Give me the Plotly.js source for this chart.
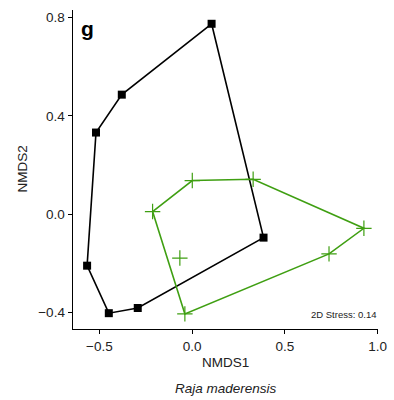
<!DOCTYPE html>
<html>
<head>
<meta charset="utf-8">
<script src="https://cdn.plot.ly/plotly-3.0.1.min.js"></script>
<style>html,body{margin:0;padding:0;background:#fff;}#chart{width:394px;height:400px;}</style>
</head>
<body>
<div id="chart"></div>
<script>
// Group 1 (black squares), hull vertices in order
const blackX = [0.105, 0.385, -0.293, -0.449, -0.566, -0.518, -0.379];
const blackY = [0.774, -0.095, -0.381, -0.402, -0.209, 0.332, 0.486];
// Group 2 (green crosses), hull vertices in order
const greenHullX = [-0.213, 0.001, 0.329, 0.926, 0.738, -0.039];
const greenHullY = [0.011, 0.137, 0.142, -0.057, -0.161, -0.405];
// Group 2 interior points
const greenInX = [-0.066];
const greenInY = [-0.178];

const xTicks = [-0.5, 0.0, 0.5, 1.0];
const yTicks = [-0.4, 0.0, 0.4, 0.8];
const panelLabel = 'g';
const stressLabel = '2D Stress: 0.14';
const xTitle = 'NMDS1';
const yTitle = 'NMDS2';
const species = 'Raja maderensis';

const black = '#000000';
const green = '#3f9f12';
const close = a => a.concat([a[0]]);

const traces = [
  {x: close(blackX), y: close(blackY), mode: 'lines', line: {color: black, width: 1.6}, hoverinfo: 'skip'},
  {x: blackX, y: blackY, mode: 'markers', marker: {symbol: 'square', size: 8, color: black}},
  {x: close(greenHullX), y: close(greenHullY), mode: 'lines', line: {color: green, width: 1.6}, hoverinfo: 'skip'},
  {x: greenHullX.concat(greenInX), y: greenHullY.concat(greenInY), mode: 'markers',
   marker: {symbol: 'cross-thin-open', size: 11, color: green, line: {color: green, width: 1.2}}}
];

const font = {family: 'Liberation Sans, Arial, sans-serif', color: '#000'};
const layout = {
  width: 394, height: 400,
  margin: {l: 73, r: 16, t: 10, b: 71},
  paper_bgcolor: '#fff', plot_bgcolor: '#fff',
  showlegend: false,
  font: Object.assign({size: 13}, font),
  xaxis: {range: [-0.642, 1.002], tickvals: xTicks, tickformat: '.1f', showgrid: false, zeroline: false,
          showline: true, linecolor: '#000', linewidth: 1.4, ticks: 'outside', ticklen: 4, tickwidth: 1.2,
          tickcolor: '#000', tickfont: Object.assign({size: 13.5, color: '#222'}, {family: font.family}), fixedrange: true},
  yaxis: {range: [-0.4663, 0.830], tickvals: yTicks, tickformat: '.1f', showgrid: false, zeroline: false,
          showline: true, linecolor: '#000', linewidth: 1.4, ticks: 'outside', ticklen: 4, tickwidth: 1.2,
          tickcolor: '#000', tickfont: Object.assign({size: 13.5, color: '#222'}, {family: font.family}), fixedrange: true},
  annotations: [
    {text: '<b>' + panelLabel + '</b>', xref: 'paper', yref: 'paper', x: 0.02, y: 0.985, xanchor: 'left', yanchor: 'top',
     showarrow: false, font: Object.assign({}, font, {size: 21})},
    {text: stressLabel, xref: 'paper', yref: 'paper', x: 1.0, y: (329 - 314) / 319, xanchor: 'right', yanchor: 'middle',
     showarrow: false, font: Object.assign({}, font, {size: 9.5, color: '#222'})},
    {text: xTitle, xref: 'paper', yref: 'paper', x: 0.5, y: (329 - 363) / 319, xanchor: 'center', yanchor: 'middle',
     showarrow: false, font: Object.assign({}, font, {size: 13.5, color: '#222'})},
    {text: yTitle, xref: 'paper', yref: 'paper', x: (22 - 73) / 305, y: 0.5, xanchor: 'center', yanchor: 'middle',
     textangle: -90, showarrow: false, font: Object.assign({}, font, {size: 13.5, color: '#222'})},
    {text: '<i>' + species + '</i>', xref: 'paper', yref: 'paper', x: 0.5, y: (329 - 388) / 319, xanchor: 'center', yanchor: 'middle',
     showarrow: false, font: Object.assign({}, font, {size: 13.5, color: '#222'})}
  ]
};

Plotly.newPlot('chart', traces, layout, {displayModeBar: false, staticPlot: true});
</script>
</body>
</html>
